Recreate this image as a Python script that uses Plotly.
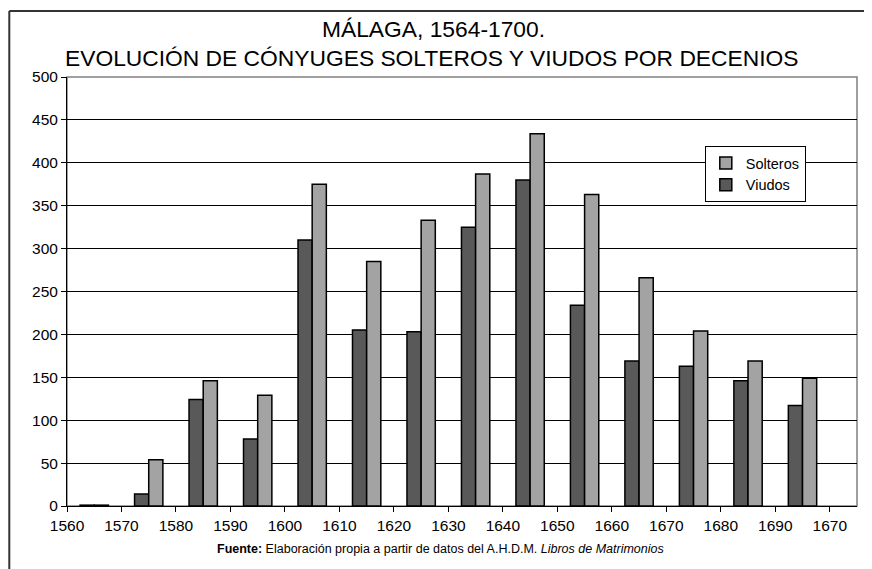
import plotly.graph_objects as go

# ---- data ----
tick_labels = ["1560", "1570", "1580", "1590", "1600", "1610", "1620", "1630",
               "1640", "1650", "1660", "1670", "1680", "1690", "1670"]
decades = ["1560", "1570", "1580", "1590", "1600", "1610", "1620", "1630",
           "1640", "1650", "1660", "1670", "1680", "1690"]
viudos = [1, 14, 124, 78, 310, 205, 203, 325, 380, 234, 169, 163, 146, 117]
solteros = [1, 54, 146, 129, 375, 285, 333, 387, 434, 363, 266, 204, 169, 149]

group_pos = [i + 0.5 for i in range(len(decades))]
tick_pos = list(range(len(tick_labels)))

FONT = "Liberation Sans, Arial, sans-serif"

# page offset (body margin) = 8px; plot area in page coords: x 66.7..856.7, y 77..506
W, H = 872, 569
PL, PR, PT, PB = 66.7, 856.7, 77.0, 506.0
PW, PH = PR - PL, PB - PT


def px(xp):
    return (xp - PL) / PW


def py(yp):
    return (PB - yp) / PH


fig = go.Figure()
fig.add_trace(go.Bar(
    x=group_pos, y=viudos, name="Viudos",
    marker=dict(color="#595959", line=dict(color="#000000", width=1.5)),
))
fig.add_trace(go.Bar(
    x=group_pos, y=solteros, name="Solteros",
    marker=dict(color="#A3A3A3", line=dict(color="#000000", width=1.5)),
))

fig.update_layout(
    width=W, height=H,
    margin=dict(l=PL - 8, r=W - (PR - 8), t=PT - 8, b=H - (PB - 8), pad=0),
    paper_bgcolor="white", plot_bgcolor="white",
    barmode="group", bargap=0.48, bargroupgap=0.0,
    font=dict(family=FONT, size=15, color="#000000"),
    showlegend=True,
    legend=dict(
        x=px(704.5), y=py(146), xanchor="left", yanchor="top",
        bgcolor="white", bordercolor="#000000", borderwidth=1,
        traceorder="reversed", font=dict(size=14.5, family=FONT),
        itemwidth=30,
    ),
    xaxis=dict(
        range=[0, 14.5], tickmode="array", tickvals=tick_pos, ticktext=tick_labels,
        ticks="outside", ticklen=5, tickcolor="#000000", showgrid=False,
        showline=True, linecolor="#000000", linewidth=1, zeroline=False,
        tickfont=dict(size=15.5, family=FONT),
    ),
    yaxis=dict(
        range=[0, 500], tickmode="linear", tick0=0, dtick=50,
        ticks="outside", ticklen=5, tickcolor="#000000",
        showgrid=True, gridcolor="#000000", gridwidth=1,
        showline=True, linecolor="#000000", linewidth=1, zeroline=False,
        tickfont=dict(size=15.5, family=FONT),
    ),
    shapes=[
        # plot area border (gray)
        dict(type="rect", xref="paper", yref="paper", x0=0, x1=1, y0=0, y1=1,
             line=dict(color="#808080", width=1.5), layer="below"),
        # outer chart frame: left and top edges
        dict(type="line", xref="paper", yref="paper",
             x0=px(9), x1=px(9), y0=py(580), y1=py(11),
             line=dict(color="#333333", width=2)),
        dict(type="line", xref="paper", yref="paper",
             x0=px(9), x1=px(885), y0=py(11), y1=py(11),
             line=dict(color="#333333", width=2)),
    ],
    annotations=[
        dict(text="MÁLAGA, 1564-1700.", xref="paper", yref="paper",
             x=px(433), y=py(28.5), xanchor="center", yanchor="middle",
             showarrow=False, font=dict(size=22.8, family=FONT)),
        dict(text="EVOLUCIÓN DE CÓNYUGES SOLTEROS Y VIUDOS POR DECENIOS",
             xref="paper", yref="paper",
             x=px(431), y=py(58), xanchor="center", yanchor="middle",
             showarrow=False, font=dict(size=22.8, family=FONT)),
        dict(text="<b>Fuente:</b> Elaboración propia a partir de datos del A.H.D.M. <i>Libros de Matrimonios</i>",
             xref="paper", yref="paper",
             x=px(440), y=py(549), xanchor="center", yanchor="middle",
             showarrow=False, font=dict(size=12.5, family=FONT)),
    ],
)

fig.write_html("out.html")
